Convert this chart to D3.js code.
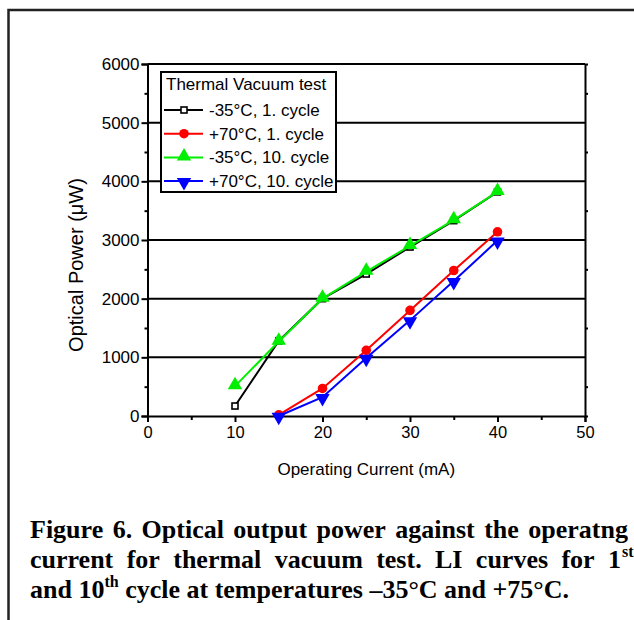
<!DOCTYPE html>
<html><head><meta charset="utf-8">
<script src="https://cdn.jsdelivr.net/npm/d3@7"></script>
<style>html,body{margin:0;padding:0;background:#fff;}svg{display:block;}</style>
</head><body>
<script>
// ---- data ----
const currents = [10, 15, 20, 25, 30, 35, 40];
const seriesNames = ["-35\u00B0C, 1. cycle", "+70\u00B0C, 1. cycle", "-35\u00B0C, 10. cycle", "+70\u00B0C, 10. cycle"];
const cold1 = [170, 1280, 2000, 2420, 2880, 3330, 3820];
const hot1 = [null, 20, 470, 1120, 1800, 2480, 3140];
const cold10 = [510, 1270, 2000, 2460, 2900, 3340, 3820];
const hot10 = [null, 0, 320, 990, 1630, 2300, 2990];
const xTicks = [0, 10, 20, 30, 40, 50];
const yTicks = [0, 1000, 2000, 3000, 4000, 5000, 6000];
const legendTitle = "Thermal Vacuum test";
const xTitle = "Operating Current (mA)";
const yTitle = "Optical Power (\u03BCW)";
const captionLines = [
  ["Figure 6. Optical output power against the operatng"],
  ["current for thermal vacuum test. LI curves for 1", "st"],
  ["and 10", "th", " cycle at temperatures \u201335\u00B0C and +75\u00B0C."]
];

const W = 634, H = 620;
const svg = d3.select("body").append("svg").attr("width", W).attr("height", H);

// outer frame (partial page box)
svg.append("path").attr("d", "M8.5,640 L8.5,10 L640,10").attr("fill", "none").attr("stroke", "#222").attr("stroke-width", 2.5);

const x = d3.scaleLinear().domain([0, 50]).range([147.5, 585]);
const y = d3.scaleLinear().domain([0, 6000]).range([416, 64]);
const FONT = "'Liberation Sans', Arial, sans-serif";

// grid lines
svg.append("g").selectAll("line").data(yTicks.filter(d => d > 0)).join("line")
  .attr("x1", x(0)).attr("x2", x(50)).attr("y1", d => y(d)).attr("y2", d => y(d))
  .attr("stroke", "#000").attr("stroke-width", 2);

// axes
const xAxis = d3.axisBottom(x).tickValues(xTicks).tickSize(6).tickPadding(4).tickFormat(d3.format("d"));
const gx = svg.append("g").attr("transform", `translate(0,${y(0)})`).call(xAxis);
const xMinor = d3.axisBottom(x).tickValues([5, 15, 25, 35, 45]).tickSize(4).tickFormat("");
svg.append("g").attr("transform", `translate(0,${y(0)})`).call(xMinor).call(g => g.select(".domain").remove());

const yAxis = d3.axisLeft(y).tickValues(yTicks).tickSize(6).tickPadding(2).tickFormat(d3.format("d"));
const gy = svg.append("g").attr("transform", `translate(${x(0)},0)`).call(yAxis);
const yMinor = d3.axisLeft(y).tickValues([500, 1500, 2500, 3500, 4500, 5500]).tickSize(3).tickFormat("");
svg.append("g").attr("transform", `translate(${x(0)},0)`).call(yMinor).call(g => g.select(".domain").remove());
const yRight = d3.axisRight(y).tickValues([500, 1500, 2500, 3500, 4500, 5500]).tickSize(3).tickFormat("");
svg.append("g").attr("transform", `translate(${x(50)},0)`).call(yRight);

svg.selectAll(".domain").attr("stroke", "#000").attr("stroke-width", 2);
svg.selectAll(".tick line").attr("stroke", "#000").attr("stroke-width", 2);
svg.selectAll(".tick text").attr("font-family", FONT).attr("font-size", 16.5).attr("fill", "#000");
gy.selectAll(".tick text").attr("font-size", 17);

// titles
svg.append("text").attr("x", x(25)).attr("y", 475).attr("text-anchor", "middle")
  .attr("font-family", FONT).attr("font-size", 17).text(xTitle);
svg.append("text").attr("transform", `translate(83,265) rotate(-90)`).attr("text-anchor", "middle")
  .attr("font-family", FONT).attr("font-size", 20).text(yTitle);

// series
const series = [
  { name: seriesNames[0], vals: cold1, color: "#000", shape: "square" },
  { name: seriesNames[1], vals: hot1, color: "#ff0000", shape: "circle" },
  { name: seriesNames[2], vals: cold10, color: "#00ee00", shape: "up" },
  { name: seriesNames[3], vals: hot10, color: "#0000ff", shape: "down" }
];
const line = d3.line().defined(d => d[1] != null).x(d => x(d[0])).y(d => y(d[1]));

function marker(g, shape, color) {
  if (shape === "square") {
    g.append("rect").attr("x", -3).attr("y", -3).attr("width", 6).attr("height", 6)
      .attr("fill", "#fff").attr("stroke", color).attr("stroke-width", 1.6);
  } else if (shape === "circle") {
    g.append("circle").attr("r", 4.8).attr("fill", color);
  } else if (shape === "up") {
    g.append("path").attr("d", d3.symbol().type(d3.symbolTriangle).size(90)()).attr("transform", "translate(0,-1)").attr("fill", color);
  } else {
    g.append("path").attr("d", d3.symbol().type(d3.symbolTriangle).size(90)()).attr("transform", "translate(0,1) rotate(180)").attr("fill", color);
  }
}

series.forEach(s => {
  const pts = currents.map((c, i) => [c, s.vals[i]]);
  svg.append("path").datum(pts).attr("d", line).attr("fill", "none")
    .attr("stroke", s.color).attr("stroke-width", 2);
  pts.filter(p => p[1] != null).forEach(p => {
    const g = svg.append("g").attr("transform", `translate(${x(p[0])},${y(p[1])})`);
    marker(g, s.shape, s.color);
  });
});

// legend
const lg = svg.append("g");
lg.append("rect").attr("x", 161).attr("y", 72).attr("width", 175).attr("height", 120)
  .attr("fill", "#fff").attr("stroke", "#000").attr("stroke-width", 2);
lg.append("text").attr("x", 166).attr("y", 90).attr("font-family", FONT).attr("font-size", 17).text(legendTitle);
series.forEach((s, i) => {
  const cy = 110 + i * 23.7;
  lg.append("line").attr("x1", 164).attr("x2", 203).attr("y1", cy).attr("y2", cy)
    .attr("stroke", s.color).attr("stroke-width", 2);
  const g = lg.append("g").attr("transform", `translate(184,${cy})`);
  marker(g, s.shape, s.color);
  lg.append("text").attr("x", 209).attr("y", cy + 6).attr("font-family", FONT).attr("font-size", 17).text(s.name);
});

// caption
const SERIF = "'Liberation Serif', 'Times New Roman', serif";
const capSize = 26;
const supSize = 16;
const baselines = [538, 568, 598];
const leftX = 30;
function justify(words, by, rightX) {
  const g = svg.append("g");
  const items = words.map(w => g.append("text").attr("y", by).attr("font-family", SERIF)
    .attr("font-weight", "bold").attr("font-size", capSize).text(w));
  const widths = items.map(t => t.node().getComputedTextLength());
  const total = widths.reduce((a, b) => a + b, 0);
  let gap = (rightX - leftX - total) / (words.length - 1);
  if (gap < 3) {
    // compress slightly if needed
    const sx = (rightX - leftX - 3 * (words.length - 1)) / total;
    gap = 3;
    let cx = leftX;
    items.forEach((t, i) => { t.attr("x", cx).attr("textLength", widths[i] * sx).attr("lengthAdjust", "spacingAndGlyphs"); cx += widths[i] * sx + gap; });
    return { g, end: cx - gap };
  }
  let cx = leftX;
  items.forEach((t, i) => { t.attr("x", cx); cx += widths[i] + gap; });
  return { g, end: cx - gap };
}
justify(captionLines[0][0].split(" "), baselines[0], 628);
{
  const r = justify(captionLines[1][0].split(" "), baselines[1], 621);
  r.g.append("text").attr("x", r.end + 1).attr("y", baselines[1] - 11).attr("font-family", SERIF)
    .attr("font-weight", "bold").attr("font-size", supSize).text(captionLines[1][1]);
}
{
  const t = svg.append("text").attr("x", leftX).attr("y", baselines[2]).attr("font-family", SERIF)
    .attr("font-weight", "bold").attr("font-size", capSize);
  t.append("tspan").text(captionLines[2][0]);
  t.append("tspan").attr("dy", -11).attr("font-size", supSize).text(captionLines[2][1]);
  t.append("tspan").attr("dy", 11).text(captionLines[2][2]);
}
</script>
</body></html>
